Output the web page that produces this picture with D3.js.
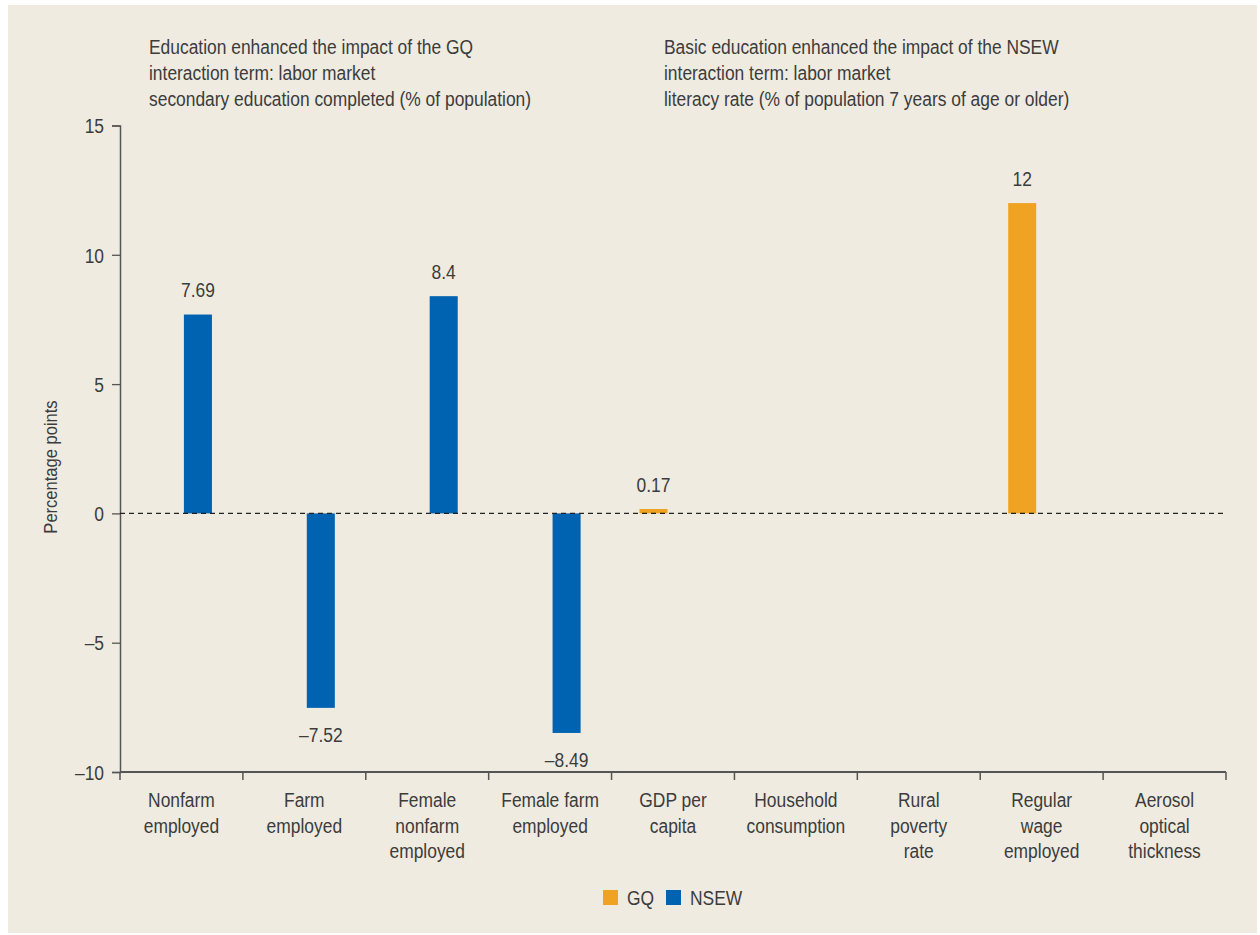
<!DOCTYPE html>
<html><head><meta charset="utf-8">
<script src="https://cdn.jsdelivr.net/npm/d3@7/dist/d3.min.js"></script>
<style>
html,body{margin:0;padding:0;background:#fff;}
svg text{font-family:"Liberation Sans",Arial,sans-serif;fill:#3c3c3c;}
</style></head>
<body>
<svg id="chart" width="1260" height="935"></svg>
<script>
const categories = [
  ["Nonfarm","employed"],
  ["Farm","employed"],
  ["Female","nonfarm","employed"],
  ["Female farm","employed"],
  ["GDP per","capita"],
  ["Household","consumption"],
  ["Rural","poverty","rate"],
  ["Regular","wage","employed"],
  ["Aerosol","optical","thickness"]
];
const seriesNames = ["GQ","NSEW"];
const gqValues   = [null, null, null, null, 0.17, null, null, 12, null];
const nsewValues = [7.69, -7.52, 8.4, -8.49, null, null, null, null, null];
const gqLabels   = [null, null, null, null, "0.17", null, null, "12", null];
const nsewLabels = ["7.69", "–7.52", "8.4", "–8.49", null, null, null, null, null];
const yTicks = [-10, -5, 0, 5, 10, 15];
const yTickLabels = ["–10", "–5", "0", "5", "10", "15"];
const noteLeft = ["Education enhanced the impact of the GQ","interaction term: labor market","secondary education completed (% of population)"];
const noteRight = ["Basic education enhanced the impact of the NSEW","interaction term: labor market","literacy rate (% of population 7 years of age or older)"];
const yAxisTitle = "Percentage points";

(function(){
const colors = {GQ:"#F0A323", NSEW:"#0063B1"};
const svg = d3.select("#chart");
svg.append("rect").attr("x",8).attr("y",5).attr("width",1249).attr("height",928).attr("fill","#EFEBE1");

// condensed look: horizontal compression factor for the regular sans
const K = 0.87;
function condense(sel){
  sel.each(function(){
    const w = this.getComputedTextLength();
    if (w > 0) d3.select(this).attr("textLength", w*K).attr("lengthAdjust","spacingAndGlyphs");
  });
}

const mLeft = 120, mRight = 1226, mTop = 125.5, mBottom = 772;
const x0 = d3.scaleBand().domain(d3.range(categories.length)).range([mLeft, mRight]).padding(0);
const bw = x0.bandwidth();
const x1 = d3.scaleBand().domain(seriesNames).range([bw/2 - 33.5, bw/2 + 30.5]).paddingInner(0.22);
const y = d3.scaleLinear().domain([-10, 15]).range([mBottom, mTop]);

// y axis
const yAxis = d3.axisLeft(y).tickValues(yTicks).tickFormat((d,i)=>yTickLabels[i]).tickSizeOuter(0).tickSize(8).tickPadding(8);
const gy = svg.append("g").attr("transform",`translate(${mLeft},0)`).call(yAxis);
gy.attr("font-family",null).attr("font-size",null);
gy.select(".domain").attr("stroke","#555").attr("stroke-width",1.5);
gy.selectAll(".tick line").attr("stroke","#555").attr("stroke-width",1.3);
gy.selectAll(".tick text").style("font-size","20px").attr("fill",null).attr("dy","0.36em").call(condense);

// x axis
const gx = svg.append("g").attr("transform",`translate(0,${mBottom})`);
gx.append("line").attr("x1",mLeft).attr("x2",mRight).attr("stroke","#555").attr("stroke-width",2);
const tickPos = d3.range(categories.length+1).map(i => i < categories.length ? x0(i) : x0(categories.length-1)+bw);
gx.selectAll("line.t").data(tickPos).join("line").attr("class","t")
  .attr("x1",d=>d).attr("x2",d=>d).attr("y1",0).attr("y2",8).attr("stroke","#555").attr("stroke-width",1.5);
const catLines = categories.flatMap((lines,i)=>lines.map((l,j)=>({i,j,l})));
gx.selectAll("text.cat").data(catLines).join("text").attr("class","cat")
  .attr("text-anchor","middle").style("font-size","20px")
  .attr("x",d=>x0(d.i)+bw/2).attr("y",d=>35+d.j*25.5).text(d=>d.l).call(condense);

// bars
const rows = categories.map((c,i)=>[
  {s:"GQ", i, v:gqValues[i], lab:gqLabels[i]},
  {s:"NSEW", i, v:nsewValues[i], lab:nsewLabels[i]}
]).flat().filter(d=>d.v!==null);

svg.selectAll("rect.bar").data(rows).join("rect").attr("class","bar")
  .attr("x",d=>x0(d.i)+x1(d.s)).attr("width",x1.bandwidth())
  .attr("y",d=>y(Math.max(0,d.v))).attr("height",d=>Math.abs(y(d.v)-y(0)))
  .attr("fill",d=>colors[d.s]);

svg.selectAll("text.val").data(rows).join("text").attr("class","val")
  .attr("text-anchor","middle").style("font-size","20px")
  .attr("x",d=>x0(d.i)+x1(d.s)+x1.bandwidth()/2)
  .attr("y",d=>d.v>=0 ? y(d.v)-17.5 : y(d.v)+34)
  .text(d=>d.lab).call(condense);

// zero line
svg.append("line").attr("x1",mLeft).attr("x2",mRight).attr("y1",y(0)).attr("y2",y(0))
  .attr("stroke","#222").attr("stroke-width",1.2).attr("stroke-dasharray","5,4");

// annotations
function note(lines, xPos){
  lines.forEach((l,j)=>svg.append("text").style("font-size","20px").attr("x",xPos).attr("y",54+j*26).text(l).call(condense));
}
note(noteLeft, 149);
note(noteRight, 664);

// y axis title
svg.append("text").attr("transform",`translate(57,467) rotate(-90)`).attr("text-anchor","middle")
  .style("font-size","19px").text(yAxisTitle).call(condense);

// legend
const lg = svg.append("g").attr("transform","translate(603,890)");
seriesNames.forEach((s,i)=>{
  const off = i*63;
  lg.append("rect").attr("x",off).attr("y",0).attr("width",15).attr("height",15).attr("fill",colors[s]);
  lg.append("text").attr("x",off+24).attr("y",15).style("font-size","20px").text(s).call(condense);
});
})();
</script>
</body></html>
